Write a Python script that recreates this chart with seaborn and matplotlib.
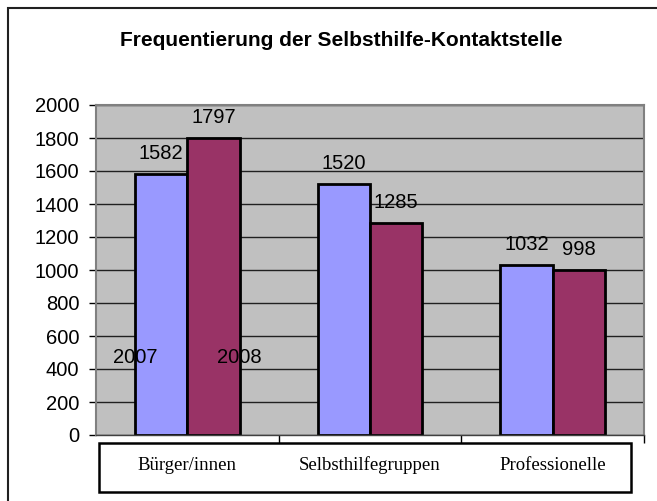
import pandas as pd
import seaborn as sns
import matplotlib.pyplot as plt
from matplotlib.patches import Rectangle

# data
kategorien = ["Bürger/innen", "Selbsthilfegruppen", "Professionelle"]
jahre = ["2007", "2008"]
werte_2007 = [1582, 1520, 1032]
werte_2008 = [1797, 1285, 998]
y_ticks = list(range(0, 2001, 200))
jahr_label_hoehe = 470  # where Excel put the series names

df = pd.DataFrame({
    "Kategorie": kategorien * 2,
    "Jahr": [jahre[0]] * 3 + [jahre[1]] * 3,
    "Anzahl": werte_2007 + werte_2008,
})

sns.set_style("white")
plt.rcParams["font.family"] = ["Liberation Sans", "DejaVu Sans"]
plt.rcParams["text.color"] = "black"
plt.rcParams["xtick.color"] = "black"
plt.rcParams["ytick.color"] = "black"

fig = plt.figure(figsize=(6.57, 5.01), dpi=100)
ax = fig.add_axes([96 / 657, 66 / 501, 548 / 657, 330 / 501])

sns.barplot(data=df, x="Kategorie", y="Anzahl", hue="Jahr",
            palette=["#9999FF", "#993366"], saturation=1,
            edgecolor="black", linewidth=2,
            width=0.574, gap=0, legend=False, ax=ax)

ax.set_facecolor("#C0C0C0")
ax.set_ylim(0, 2000)
ax.set_xlim(-0.5, 2.5)
ax.set_yticks(y_ticks)
ax.yaxis.grid(True, color="#202020", linewidth=1)
ax.set_axisbelow(True)
ax.tick_params(axis="y", labelsize=14.5, length=5, width=1, pad=7,
               direction="out", left=True, color="black", labelcolor="black")
ax.set_xticks([0.5, 1.5, 2.5])
ax.set_xticklabels([])
ax.tick_params(axis="x", length=6, width=1, direction="out", bottom=True,
               color="black")
ax.set_xlabel("")
ax.set_ylabel("")
for side in ["top", "right", "left"]:
    ax.spines[side].set_color("#808080")
    ax.spines[side].set_linewidth(1.5)
ax.spines["bottom"].set_color("#404040")
ax.spines["bottom"].set_linewidth(1)

# value labels above bars
for cont in ax.containers:
    ax.bar_label(cont, padding=8, fontsize=14.5, color="black")

# series names, Excel-style, at outer edges of first group
blue_first = ax.containers[0][0]
plum_first = ax.containers[1][0]
ax.text(blue_first.get_x(), jahr_label_hoehe, jahre[0], ha="center",
        va="center", fontsize=14.5)
ax.text(plum_first.get_x() + plum_first.get_width(), jahr_label_hoehe,
        jahre[1], ha="center", va="center", fontsize=14.5)

# category label box below the axis
box = Rectangle((3 / 548, -57 / 330), 532 / 548, 49 / 330,
                transform=ax.transAxes, facecolor="white", edgecolor="black",
                linewidth=1.8, clip_on=False)
ax.add_patch(box)
for i, name in enumerate(kategorien):
    ax.text(i, -30 / 330, name, transform=ax.get_xaxis_transform(),
            ha="center", va="center", fontsize=13.5, family="Liberation Serif")

fig.text(341 / 657, 1 - 40 / 501, "Frequentierung der Selbsthilfe-Kontaktstelle",
         ha="center", va="center", fontsize=15, fontweight="bold")

# outer chart border (only top and left are visible in the picture)
fig.add_artist(Rectangle((8 / 657, -0.2), 1.2, 1.2 - 8 / 501,
                         transform=fig.transFigure, facecolor="none",
                         edgecolor="#202020", linewidth=1.5))

fig.savefig("out.png", dpi=100)
